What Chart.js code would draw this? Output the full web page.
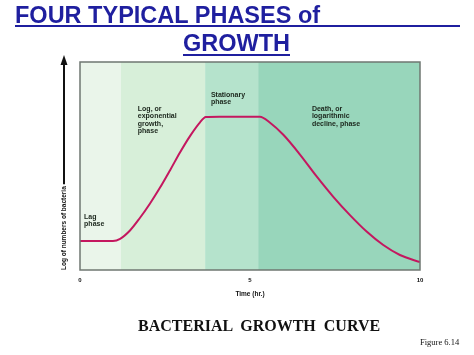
<!DOCTYPE html>
<html>
<head>
<meta charset="utf-8">
<script src="https://cdn.jsdelivr.net/npm/chart.js@4"></script>
<style>
  body { margin: 0; background: #fff; }
  #wrap { position: relative; width: 474px; height: 355px; overflow: hidden; }
  #chart { position: absolute; left: 0; top: 0; }
  .head { position: absolute; font-family: "Liberation Sans", Arial, sans-serif; font-weight: bold;
          font-size: 23.5px; line-height: 1; color: #1f1f9f; white-space: pre; }
  .rule { position: absolute; height: 2px; background: #1f1f9f; }
  .serif { position: absolute; font-family: "Liberation Serif", "Times New Roman", serif; line-height: 1;
           color: #111; white-space: pre; }
</style>
</head>
<body>
<div id="wrap">
  <canvas id="chart" width="474" height="355"></canvas>
  <div class="head" style="left:15px; top:4px;">FOUR TYPICAL PHASES of</div>
  <div class="rule" style="left:15px; top:25px; width:445px;"></div>
  <div class="head" style="left:183px; top:32px;">GROWTH</div>
  <div class="rule" style="left:183px; top:54px; width:107px;"></div>
  <div class="serif" style="left:138px; top:318px; font-size:16px; font-weight:bold;">BACTERIAL  GROWTH  CURVE</div>
  <div class="serif" style="left:420px; top:338px; font-size:8.5px;">Figure 6.14</div>
</div>
<script>
/* Bacterial growth curve: phase bands behind a smooth curve */

// curve (time in hours, log count in arbitrary units)
const timeHours = [0, 0.5, 0.97, 1.18, 1.47, 1.76, 2.06, 2.35, 2.65, 2.94, 3.24, 3.53, 3.7, 4.1, 4.5, 4.9,
  5.29, 5.59, 5.98, 6.47, 6.96, 7.45, 7.94, 8.43, 8.92, 9.41, 10];
const logCount = [1.4, 1.4, 1.4, 1.5, 1.9, 2.5, 3.2, 3.95, 4.8, 5.65, 6.45, 7.1, 7.35, 7.37, 7.37, 7.37,
  7.37, 7.08, 6.5, 5.55, 4.5, 3.52, 2.64, 1.85, 1.2, 0.72, 0.38];

// phase bands: start time of each phase, the last one runs to the end of the axis
const phaseStarts = [0, 1.2, 3.68, 5.24];
const phaseColors = ["#eaf5ea", "#d7efd9", "#b5e3cc", "#98d6bb"];
const phaseLabels = [
  ["Lag", "phase"],
  ["Log, or", "exponential", "growth,", "phase"],
  ["Stationary", "phase"],
  ["Death, or", "logarithmic", "decline, phase"],
];
// where each label's first line sits, in data units
const labelX = [0.12, 1.7, 3.85, 6.82];
const labelY = [2.7, 7.9, 8.6, 7.9];

const xTicks = [0, 5, 10];

const FONT = '"Liberation Sans", Arial, sans-serif';

const phasePlugin = {
  id: "phases",
  beforeDatasetsDraw(chart) {
    const { ctx, chartArea: a, scales } = chart;
    const xs = scales.x;
    ctx.save();
    phaseStarts.forEach((s, i) => {
      const end = i + 1 < phaseStarts.length ? phaseStarts[i + 1] : xs.max;
      const x0 = xs.getPixelForValue(s);
      const x1 = xs.getPixelForValue(end);
      ctx.fillStyle = phaseColors[i];
      ctx.fillRect(x0, a.top, x1 - x0, a.bottom - a.top);
    });
    // phase names
    ctx.fillStyle = "#1b261c";
    ctx.font = "bold 7px " + FONT;
    ctx.textBaseline = "top";
    phaseLabels.forEach((lines, i) => {
      const px = xs.getPixelForValue(labelX[i]);
      const py = scales.y.getPixelForValue(labelY[i]);
      lines.forEach((t, j) => ctx.fillText(t, px, py + j * 7.2));
    });
    ctx.restore();
  },
  afterDatasetsDraw(chart) {
    const { ctx, chartArea: a } = chart;
    ctx.save();
    // frame
    ctx.strokeStyle = "#6f7771";
    ctx.lineWidth = 1.5;
    ctx.strokeRect(a.left, a.top, a.right - a.left, a.bottom - a.top);

    // y axis: rotated label followed by an arrow
    const ax = a.left - 16;
    ctx.translate(ax, a.bottom);
    ctx.rotate(-Math.PI / 2);
    ctx.font = "bold 6.5px " + FONT;
    ctx.fillStyle = "#111";
    ctx.textBaseline = "middle";
    const label = "Log of numbers of bacteria";
    ctx.fillText(label, 0, 0);
    const w = ctx.measureText(label).width;
    const len = a.bottom - a.top + 7;
    ctx.strokeStyle = "#111";
    ctx.lineWidth = 2;
    ctx.beginPath();
    ctx.moveTo(w + 2, 0);
    ctx.lineTo(len - 8, 0);
    ctx.stroke();
    ctx.beginPath();
    ctx.moveTo(len, 0);
    ctx.lineTo(len - 10, -3.5);
    ctx.lineTo(len - 10, 3.5);
    ctx.closePath();
    ctx.fillStyle = "#111";
    ctx.fill();
    ctx.restore();
  },
};

document.addEventListener("DOMContentLoaded", () => {
  const ctx = document.getElementById("chart").getContext("2d");

  new Chart(ctx, {
    type: "line",
    data: {
      datasets: [
        {
          data: timeHours.map((t, i) => ({ x: t, y: logCount[i] })),
          borderColor: "#c4175f",
          borderWidth: 2,
          pointRadius: 0,
          cubicInterpolationMode: "monotone",
          fill: false,
        },
      ],
    },
    options: {
      responsive: false,
      animation: false,
      layout: { padding: { left: 80, right: 54, top: 62, bottom: 55 } },
      plugins: { legend: { display: false }, tooltip: { enabled: false } },
      scales: {
        x: {
          type: "linear",
          min: 0,
          max: 10,
          afterBuildTicks: (s) => { s.ticks = xTicks.map((v) => ({ value: v })); },
          afterFit: (s) => { s.height = 30; },
          grid: { display: false, drawTicks: false },
          border: { display: false },
          ticks: { padding: 7, color: "#111", font: { family: FONT, size: 6, weight: "bold" } },
          title: {
            display: true,
            text: "Time (hr.)",
            color: "#111",
            padding: { top: 4, bottom: 2 },
            font: { family: FONT, size: 6.5, weight: "bold" },
          },
        },
        y: { display: false, min: 0, max: 10 },
      },
    },
    plugins: [phasePlugin],
  });
});
</script>
</body>
</html>
